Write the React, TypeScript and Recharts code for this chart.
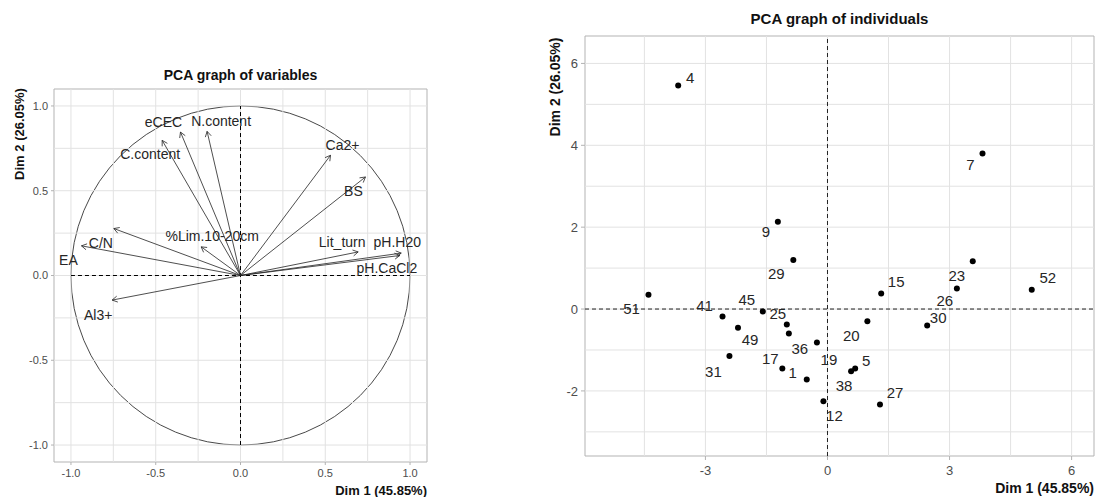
import React from 'react';
import { ScatterChart, Scatter, XAxis, YAxis, ReferenceLine, ReferenceArea } from 'recharts';

const FONT = "'Liberation Sans', Arial, Helvetica, sans-serif";

// PCA graph of variables: coordinates of each variable on Dim 1 / Dim 2
const varNames = ['eCEC', 'N.content', 'C.content', 'Ca2+', 'BS', 'C/N', 'EA', '%Lim.10-20cm', 'Lit_turn', 'pH.H20', 'pH.CaCl2', 'Al3+'];
const varDim1 = [-0.354, -0.197, -0.462, 0.531, 0.737, -0.747, -0.938, -0.232, 0.694, 0.948, 0.94, -0.757];
const varDim2 = [0.846, 0.85, 0.797, 0.709, 0.581, 0.277, 0.175, 0.169, 0.139, 0.132, 0.118, -0.145];

// PCA graph of individuals
const indNames = ['4', '7', '9', '29', '23', '26', '52', '15', '51', '45', '41', '25', '20', '30', '49', '36', '19', '31', '17', '5', '38', '1', '12', '27'];
const indDim1 = [-3.67, 3.81, -1.22, -0.84, 3.57, 3.18, 5.02, 1.32, -4.4, -1.59, -2.58, -1.0, 0.98, 2.45, -2.2, -0.95, -0.26, -2.41, -1.11, 0.68, 0.58, -0.51, -0.1, 1.29];
const indDim2 = [5.46, 3.8, 2.13, 1.2, 1.17, 0.5, 0.47, 0.38, 0.35, -0.06, -0.18, -0.38, -0.3, -0.4, -0.46, -0.6, -0.82, -1.15, -1.45, -1.45, -1.52, -1.72, -2.25, -2.33];

const varTicks = [-1, -0.5, 0, 0.5, 1];
const varMinor = [-0.75, -0.25, 0.25, 0.75];
const indXTicks = [-3, 0, 3, 6];
const indXMinor = [-4.5, -1.5, 1.5, 4.5];
const indYTicks = [-2, 0, 2, 4, 6];
const indYMinor = [-3, -1, 1, 3, 5];

// label placement (pixel offsets from the mark, like ggrepel put them)
const varLabelOffset: Record<string, [number, number]> = {
  'eCEC': [-17, -10], 'N.content': [14, -10], 'C.content': [-12, 14], 'Ca2+': [12, -10],
  'BS': [-12, 14], 'C/N': [-13, 14], 'EA': [-13, 14], '%Lim.10-20cm': [11, -11],
  'Lit_turn': [-16, -10], 'pH.H20': [-4, -11], 'pH.CaCl2': [-13, 13], 'Al3+': [-14, 15],
};
const indLabelOffset: Record<string, [number, number]> = {
  '4': [12, -8], '7': [-12, 11], '9': [-12, 10], '29': [-17, 14], '23': [-16, 14], '26': [-12, 12],
  '52': [16, -12], '15': [15, -12], '51': [-17, 14], '45': [-16, -12], '41': [-18, -11], '25': [-9, -11],
  '20': [-16, 14], '30': [11, -8], '49': [12, 12], '36': [11, 15], '19': [12, 17], '31': [-16, 15],
  '17': [-12, -10], '5': [11, -8], '38': [-7, 14], '1': [-14, -7], '12': [11, 14], '27': [15, -12],
};

const varData = varNames.map((name, i) => ({ name, x: varDim1[i], y: varDim2[i] }));
const indData = indNames.map((name, i) => ({ name, x: indDim1[i], y: indDim2[i] }));

const GRID = '#e2e2e2';
const BORDER = '#b3b3b3';
const TICK = { fill: '#4d4d4d', fontSize: 11, fontFamily: FONT };

const fmt1 = (v: number) => v.toFixed(1);

const Arrow = (p: any) => {
  const { x1, y1, x2, y2 } = p;
  const a = Math.atan2(y2 - y1, x2 - x1);
  const L = 6;
  const w = Math.PI / 6;
  const ax = x2 - L * Math.cos(a - w), ay = y2 - L * Math.sin(a - w);
  const bx = x2 - L * Math.cos(a + w), by = y2 - L * Math.sin(a + w);
  return (
    <g stroke="#222" strokeWidth={0.8} fill="none">
      <line x1={x1} y1={y1} x2={x2} y2={y2} />
      <polyline points={`${ax},${ay} ${x2},${y2} ${bx},${by}`} />
    </g>
  );
};

const UnitCircle = (p: any) => (
  <ellipse
    cx={p.x + p.width / 2}
    cy={p.y + p.height / 2}
    rx={Math.abs(p.width) / 2}
    ry={Math.abs(p.height) / 2}
    fill="none"
    stroke="#333"
    strokeWidth={0.9}
  />
);

const VarLabel = (p: any) => {
  const off = varLabelOffset[p.payload.name] || [0, 0];
  return (
    <text x={p.cx + off[0]} y={p.cy + off[1]} textAnchor="middle" dominantBaseline="central"
      fontSize={14} fontFamily={FONT} fill="#262626">
      {p.payload.name}
    </text>
  );
};

const IndPoint = (p: any) => {
  const off = indLabelOffset[p.payload.name] || [0, 0];
  return (
    <g>
      <circle cx={p.cx} cy={p.cy} r={3} fill="#000" />
      <text x={p.cx + off[0]} y={p.cy + off[1]} textAnchor="middle" dominantBaseline="central"
        fontSize={15} fontFamily={FONT} fill="#262626">
        {p.payload.name}
      </text>
    </g>
  );
};

const overlay = (style: React.CSSProperties): React.CSSProperties => ({
  position: 'absolute', whiteSpace: 'nowrap', fontFamily: FONT, fontWeight: 'bold',
  color: '#111', lineHeight: 1, ...style,
});

export default function App() {
  return (
    <div style={{ position: 'fixed', left: 0, top: 0, width: 1097, height: 497, background: '#fff', overflow: 'hidden' }}>
      {/* left: variables */}
      <div style={{ position: 'absolute', left: 0, top: 0, width: 440, height: 497 }}>
        <ScatterChart width={440} height={497} margin={{ top: 89, right: 13, bottom: 0, left: 0 }}>
          <XAxis type="number" dataKey="x" domain={[-1.1, 1.1]} ticks={varTicks} allowDataOverflow
            tickFormatter={fmt1} axisLine={false} tickSize={3} tickMargin={4} height={35}
            tick={TICK} tickLine={{ stroke: BORDER }} />
          <YAxis type="number" dataKey="y" domain={[-1.1, 1.1]} ticks={varTicks} allowDataOverflow
            tickFormatter={fmt1} axisLine={false} tickSize={3} tickMargin={3} width={54}
            tick={TICK} tickLine={{ stroke: BORDER }} />
          {[...varTicks, ...varMinor].map(v => (
            <ReferenceLine key={'gx' + v} x={v} stroke={GRID} strokeWidth={1} />
          ))}
          {[...varTicks, ...varMinor].map(v => (
            <ReferenceLine key={'gy' + v} y={v} stroke={GRID} strokeWidth={1} />
          ))}
          <ReferenceArea x1={-1.1} x2={1.1} y1={-1.1} y2={1.1} fill="none" stroke={BORDER} strokeWidth={1} ifOverflow="visible" />
          <ReferenceLine segment={[{ x: -1, y: 0 }, { x: 1, y: 0 }]} stroke="#000" strokeDasharray="4 3" />
          <ReferenceLine segment={[{ x: 0, y: -1 }, { x: 0, y: 1 }]} stroke="#000" strokeDasharray="4 3" />
          <ReferenceArea x1={-1} x2={1} y1={-1} y2={1} shape={UnitCircle} />
          {varData.map(d => (
            <ReferenceLine key={'a' + d.name} segment={[{ x: 0, y: 0 }, { x: d.x, y: d.y }]} shape={Arrow} />
          ))}
          <Scatter data={varData} shape={VarLabel} isAnimationActive={false} />
        </ScatterChart>
        <div style={overlay({ left: 240.5, top: 75, fontSize: 14, transform: 'translate(-50%,-50%)' })}>PCA graph of variables</div>
        <div style={overlay({ left: 19, top: 134, fontSize: 13, transform: 'translate(-50%,-50%) rotate(-90deg)' })}>Dim 2 (26.05%)</div>
        <div style={overlay({ right: 440 - 427, top: 490, fontSize: 13, transform: 'translateY(-50%)' })}>Dim 1 (45.85%)</div>
      </div>

      {/* right: individuals */}
      <div style={{ position: 'absolute', left: 520, top: 0, width: 577, height: 497 }}>
        <ScatterChart width={577} height={497} margin={{ top: 36, right: 3, bottom: 0, left: 0 }}>
          <XAxis type="number" dataKey="x" domain={[-5.96, 6.55]} ticks={indXTicks} allowDataOverflow
            axisLine={false} tickSize={4} tickMargin={6} height={41}
            tick={{ ...TICK, fontSize: 13 }} tickLine={{ stroke: BORDER }} />
          <YAxis type="number" dataKey="y" domain={[-3.59, 6.67]} ticks={indYTicks} allowDataOverflow
            axisLine={false} tickSize={4} tickMargin={3} width={65}
            tick={{ ...TICK, fontSize: 13 }} tickLine={{ stroke: BORDER }} />
          {[...indXTicks, ...indXMinor].map(v => (
            <ReferenceLine key={'gx' + v} x={v} stroke={GRID} strokeWidth={1} />
          ))}
          {[...indYTicks, ...indYMinor].map(v => (
            <ReferenceLine key={'gy' + v} y={v} stroke={GRID} strokeWidth={1} />
          ))}
          <ReferenceArea x1={-5.96} x2={6.55} y1={-3.59} y2={6.67} fill="none" stroke={BORDER} strokeWidth={1} ifOverflow="visible" />
          <ReferenceLine y={0} stroke="#222" strokeDasharray="4 3" />
          <ReferenceLine x={0} stroke="#222" strokeDasharray="4 3" />
          <Scatter data={indData} shape={IndPoint} isAnimationActive={false} />
        </ScatterChart>
        <div style={overlay({ left: 319.5, top: 18, fontSize: 15, transform: 'translate(-50%,-50%)' })}>PCA graph of individuals</div>
        <div style={overlay({ left: 35, top: 87, fontSize: 14, transform: 'translate(-50%,-50%) rotate(-90deg)' })}>Dim 2 (26.05%)</div>
        <div style={overlay({ right: 577 - 574, top: 488, fontSize: 14, transform: 'translateY(-50%)' })}>Dim 1 (45.85%)</div>
      </div>
    </div>
  );
}
